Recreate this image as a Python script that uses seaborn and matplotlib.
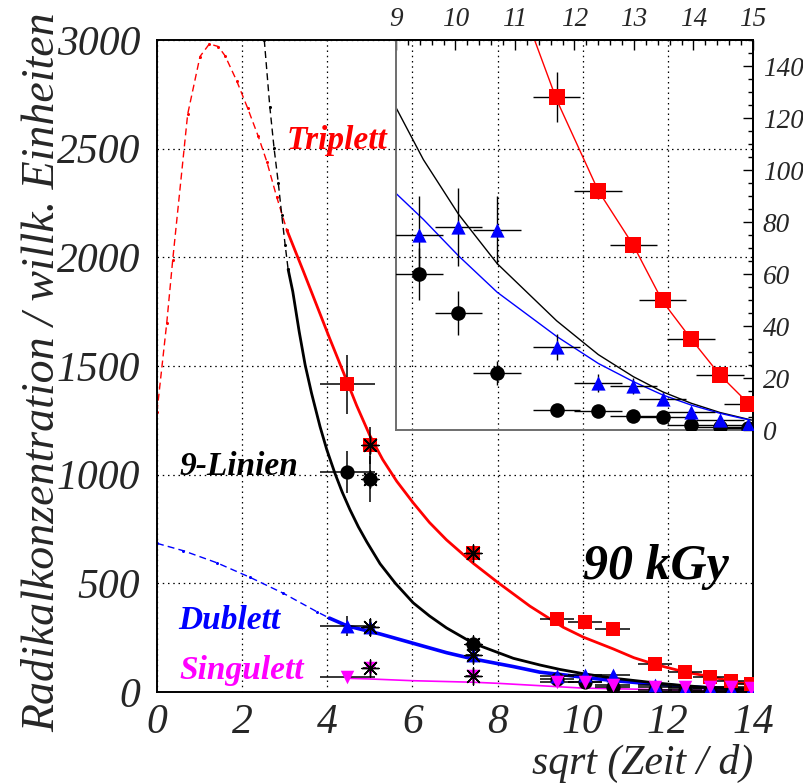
import matplotlib
matplotlib.use("Agg")
import matplotlib.pyplot as plt
from matplotlib.ticker import MultipleLocator
import pandas as pd
import seaborn as sns

# ---- measurements: sqrt(time / d) and radical concentrations (arb. units) ----
t_sqrt = [4.47, 5.00, 7.42, 9.39, 10.05, 10.70, 11.70, 12.40, 12.99, 13.48, 13.96, 14.45, 14.92]
t_sqrt_err = [0.65, 0.15, 0.15, 0.4, 0.4, 0.4, 0.4, 0.4, 0.4, 0.4, 0.4, 0.4, 0.4]

triplett = [1416, 1135, 638, 334, 321, 288, 128, 92, 71, 50, 35, 21, 10]
triplett_err = [135, 85, 20, 15, 12, 12, 9.6, 3, 3, 2.5, 2.5, 2, 2]

neun_linien = [1011, 979, 219, 60, 45, 22, 7.7, 7.3, 5.5, 5.1, 1.9, 1.3, 0.8]
neun_linien_err = [96, 105, 25, 10, 8.5, 4.7, 2, 1.5, 1.2, 1, 1, 1, 1]

dublett = [304, 298, 170, 75, 78, 77, 32, 18, 17, 12, 7, 4, 2]
dublett_err = [45, 40, 15, 15, 15, 13, 5, 3.5, 3, 2.5, 2, 1.5, 1]

singulett = [70, 109, 74, 45, 45, 30, 25, 22, 25, 25, 20, 15, 10]
singulett_err = [20, 20, 12, 8, 8, 6, 5, 5, 5, 5, 4, 4, 4]

# samples marked with an additional asterisk
starred = [1, 2]

# ---- fitted model curves (extrapolated part and fitted range) ----
trip_ext_x = [0.0, 0.23, 0.37, 0.72, 1.01, 1.23, 1.44, 1.60, 1.87, 2.13, 2.38, 2.58, 2.81, 3.05]
trip_ext_y = [1290, 1700, 1990, 2658, 2924, 2982, 2970, 2927, 2813, 2686, 2556, 2440, 2279, 2126]
trip_fit_x = [3.05, 3.44, 3.75, 4.06, 4.38, 4.69, 5.00, 5.30, 5.63, 6.02, 6.40, 6.80, 7.43, 8.02,
              8.76, 9.54, 10.02, 10.72, 11.20, 11.70, 12.40, 12.99, 13.48, 13.96, 14.45, 14.92]
trip_fit_y = [2126, 1935, 1780, 1625, 1470, 1318, 1180, 1070, 970, 870, 780, 700, 592, 502,
              395, 298, 252, 198, 158, 127, 92, 71, 49.5, 35, 21, 10.3]

neun_ext_x = [2.52, 2.65, 2.75, 2.85, 2.93, 3.01, 3.08]
neun_ext_y = [3000, 2693, 2502, 2341, 2195, 2057, 1945]
neun_fit_x = [3.08, 3.19, 3.34, 3.48, 3.63, 3.83, 3.99, 4.18, 4.35, 4.53, 4.73, 4.93, 5.24, 5.60,
              6.02, 6.40, 6.80, 7.43, 8.37, 9.00, 9.46, 10.05, 10.70, 11.70, 12.40, 12.99,
              13.48, 13.96, 14.45, 14.98]
neun_fit_y = [1945, 1842, 1658, 1505, 1375, 1221, 1114, 1006, 920, 840, 760, 690, 590, 500,
              410, 350, 295, 224, 155, 124, 104, 83, 64, 42, 29, 20.5,
              14.7, 10.3, 6.7, 3.8]

dub_ext_x = [0.0, 0.62, 1.40, 2.18, 2.97, 3.75, 4.05]
dub_ext_y = [684, 650, 595, 528, 454, 370, 340]
dub_fit_x = [4.05, 4.47, 5.24, 6.02, 6.80, 7.43, 8.37, 9.00, 9.46, 10.05, 10.70, 11.70, 12.40,
             12.99, 13.48, 13.96, 14.45, 14.95]
dub_fit_y = [340, 304, 267, 224, 181, 152, 117, 91, 81, 67, 53, 36, 25.6, 18.6, 13.5, 9.6, 6.4, 3.8]

sing_fit_x = [4.47, 5.00, 6.00, 7.42, 8.00, 10.00, 12.00, 14.00]
sing_fit_y = [63, 60, 52, 45, 40, 18, 10, 4]

RED, BLUE, MAG, BLK = "#ff0000", "#0000ff", "#ff00ff", "#000000"

sns.set_style("white")
plt.rcParams["font.family"] = ["Liberation Serif", "DejaVu Serif"]
plt.rcParams["font.style"] = "italic"
plt.rcParams["mathtext.default"] = "it"

fig = plt.figure(figsize=(8.04, 7.83), dpi=100)
ax = fig.add_axes([157 / 804, 91 / 783, 596 / 804, 652 / 783])
axin = fig.add_axes([396 / 804, 353 / 783, 357 / 804, 390 / 783])
axin.set_facecolor("none")

meas = pd.DataFrame({"t": t_sqrt, "terr": t_sqrt_err,
                     "trip": triplett, "trip_err": triplett_err,
                     "neun": neun_linien, "neun_err": neun_linien_err,
                     "dub": dublett, "dub_err": dublett_err,
                     "sing": singulett, "sing_err": singulett_err})
star = meas.iloc[starred]


def curve(axis, xs, ys, color, lw, dashed=False, z=2):
    kw = dict(linestyle=(0, (5, 3)), marker="o", markersize=2.2, markeredgewidth=0) if dashed \
        else dict(linestyle="-")
    sns.lineplot(x=xs, y=ys, ax=axis, color=color, lw=lw, sort=False, estimator=None,
                 zorder=z, **kw)


# ---- main panel ----
curve(ax, trip_ext_x, trip_ext_y, RED, 1.0, dashed=True)
curve(ax, neun_ext_x, neun_ext_y, BLK, 1.0, dashed=True)
curve(ax, dub_ext_x, dub_ext_y, BLUE, 1.0, dashed=True)
curve(ax, dub_fit_x, dub_fit_y, BLUE, 2.6, z=2.1)
curve(ax, neun_fit_x, neun_fit_y, BLK, 2.0, z=2.2)
curve(ax, trip_fit_x, trip_fit_y, RED, 2.0, z=2.3)
curve(ax, sing_fit_x, sing_fit_y, MAG, 1.2, z=2.4)

series = [("neun", BLK, "o", 105), ("dub", BLUE, "^", 100), ("trip", RED, "s", 115), ("sing", MAG, "v", 95)]
for i, (key, col, mk, size) in enumerate(series):
    ax.errorbar(meas["t"], meas[key], xerr=meas["terr"], yerr=meas[key + "_err"], fmt="none",
                ecolor="black", elinewidth=1.1, capsize=0, zorder=3 + i * 0.1)
    sns.scatterplot(data=meas, x="t", y=key, ax=ax, marker=mk, s=size, color=col,
                    edgecolor=col, linewidth=0, zorder=4 + i * 0.1, legend=False)
    sns.scatterplot(x=star["t"], y=star[key], ax=ax, marker=(8, 2, 0), s=150, color="black",
                    linewidth=1.0, zorder=4.05 + i * 0.1, legend=False)

ax.set_xlim(0, 14)
ax.set_ylim(0, 3000)
ax.xaxis.set_major_locator(MultipleLocator(2))
ax.xaxis.set_minor_locator(MultipleLocator(0.5))
ax.yaxis.set_major_locator(MultipleLocator(500))
ax.yaxis.set_minor_locator(MultipleLocator(250))
ax.tick_params(which="both", direction="in", color="black", width=1.0,
               labelsize=30, top=False, right=False)
ax.tick_params(axis="y", which="major", length=13, pad=12)
ax.tick_params(axis="y", which="minor", length=6.5)
ax.tick_params(axis="x", which="major", length=9, pad=8)
ax.tick_params(axis="x", which="minor", length=7)
ax.grid(True, which="major", color="black", lw=0.9, ls=(0, (1.2, 3)))
for sp in ax.spines.values():
    sp.set_color("black")
    sp.set_linewidth(1.4)

ax.set_xlabel("sqrt (Zeit / d)", fontsize=30, loc="right")
ax.xaxis.set_label_coords(1.0, -0.08)
ax.set_ylabel("Radikalkonzentration / willk. Einheiten", fontsize=33)
ax.yaxis.set_label_coords(-0.155, 0.49)

lab = dict(fontweight="bold", fontsize=24, va="baseline", ha="left")
ax.text(3.05, 2500, "Triplett", color=RED, **lab)
ax.text(0.54, 1000, "9-Linien", color=BLK, **lab)
ax.text(0.49, 290, "Dublett", color=BLUE, **lab)
ax.text(0.52, 60, "Singulett", color=MAG, **lab)
ax.text(10.0, 520, "90 kGy", color=BLK, fontweight="bold", fontsize=36, va="baseline", ha="left")

# ---- inset: late times ----
curve(axin, neun_fit_x, neun_fit_y, BLK, 1.0)
curve(axin, dub_fit_x, dub_fit_y, BLUE, 1.0)
curve(axin, trip_fit_x, trip_fit_y, RED, 1.0)
for i, (key, col, mk, size) in enumerate(series[:3]):
    axin.errorbar(meas["t"], meas[key], xerr=meas["terr"], yerr=meas[key + "_err"], fmt="none",
                  ecolor="black", elinewidth=1.0, capsize=0, zorder=3 + i * 0.1)
    sns.scatterplot(data=meas, x="t", y=key, ax=axin, marker=mk, s=size * 1.05, color=col,
                    edgecolor=col, linewidth=0, zorder=4 + i * 0.1, legend=False)

axin.set_xlim(9, 15)
axin.set_ylim(0, 150)
axin.xaxis.tick_top()
axin.yaxis.tick_right()
axin.xaxis.set_major_locator(MultipleLocator(1))
axin.xaxis.set_minor_locator(MultipleLocator(0.2))
axin.yaxis.set_major_locator(MultipleLocator(20))
axin.yaxis.set_minor_locator(MultipleLocator(5))
axin.tick_params(which="both", direction="in", color="black", width=1.0, labelsize=19.5,
                 bottom=False, left=False, top=True, right=True)
axin.tick_params(which="major", length=7, pad=6)
axin.tick_params(axis="y", which="major", pad=7)
axin.tick_params(which="minor", length=3.5)
axin.set_xlabel("")
axin.set_ylabel("")
for side in ("left", "bottom"):
    axin.spines[side].set_color("#6e6e6e")
    axin.spines[side].set_linewidth(1.4)
for side in ("top", "right"):
    axin.spines[side].set_color("black")
    axin.spines[side].set_linewidth(1.4)

fig.savefig("out.png", dpi=100)
